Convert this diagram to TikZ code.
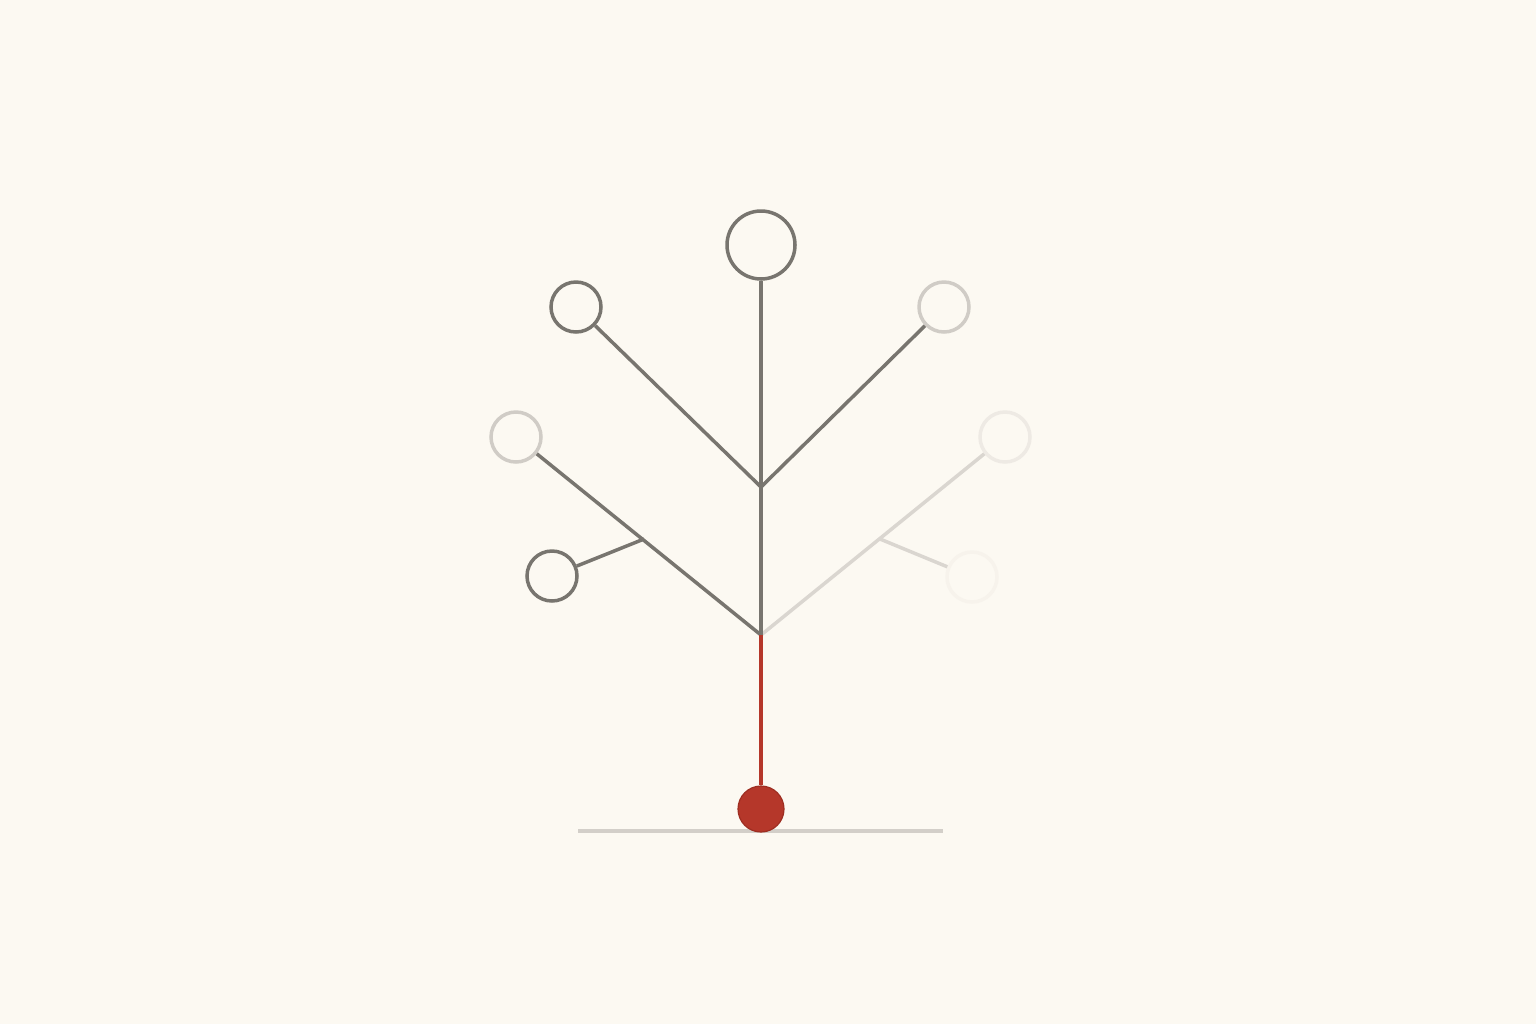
\documentclass[tikz,border=0pt]{standalone}
\usetikzlibrary{positioning}
\definecolor{bg}{HTML}{FCF9F2}
\definecolor{dk}{HTML}{78756F}
\definecolor{lt}{HTML}{D0CCC6}
\definecolor{ltline}{HTML}{DAD6D0}
\definecolor{faint}{HTML}{EEEAE4}
\definecolor{faintest}{HTML}{F7F3EC}
\definecolor{rd}{HTML}{B5372A}
\definecolor{rdedge}{HTML}{9E2E22}
\definecolor{ground}{HTML}{D3CFC9}
\begin{document}
\begin{tikzpicture}[x=0.5pt,y=-0.5pt,
  ring/.style={circle,draw=#1,line width=1.75pt,inner sep=0pt,fill=bg},
  branch/.style={draw=#1,line width=1.75pt},
  stem/.style={draw=rd,line width=1.75pt}]
\fill[bg] (0,0) rectangle (1536,1024);
\useasboundingbox (0,0) rectangle (1536,1024);
% ground
\draw[ground,line width=2pt] (578,831) -- (943,831);
% junctions
\coordinate (jlow) at (761,635);
\coordinate (jup) at (761,487);
\coordinate (jl) at (644,539);
\coordinate (jr) at (880,539);
% circles
\node[ring=dk,minimum size=34pt] (top) at (761,245) {};
\node[ring=dk,minimum size=25pt] (ul) at (576,307) {};
\node[ring=lt,minimum size=25pt] (ur) at (944,307) {};
\node[ring=lt,minimum size=25pt] (ml) at (516,437) {};
\node[ring=faint,minimum size=25pt] (mr) at (1005,437) {};
\node[ring=dk,minimum size=25pt] (ll) at (552,576) {};
\node[ring=faintest,minimum size=25pt] (lr) at (972,577) {};
\node[circle,fill=rd,draw=rdedge,line width=0.6pt,inner sep=0pt,minimum size=23pt] (root) at (761,809) {};
% branches
\draw[branch=ltline] (jlow) -- (mr);
\draw[branch=ltline] (jr) -- (lr);
\draw[branch=dk] (jlow) -- (ml);
\draw[branch=dk] (jl) -- (ll);
\draw[branch=dk] (jup) -- (ul);
\draw[branch=dk] (jup) -- (ur);
\draw[branch=dk] (jlow) -- (top);
\draw[stem] (jlow) -- (root);
\end{tikzpicture}
\end{document}
